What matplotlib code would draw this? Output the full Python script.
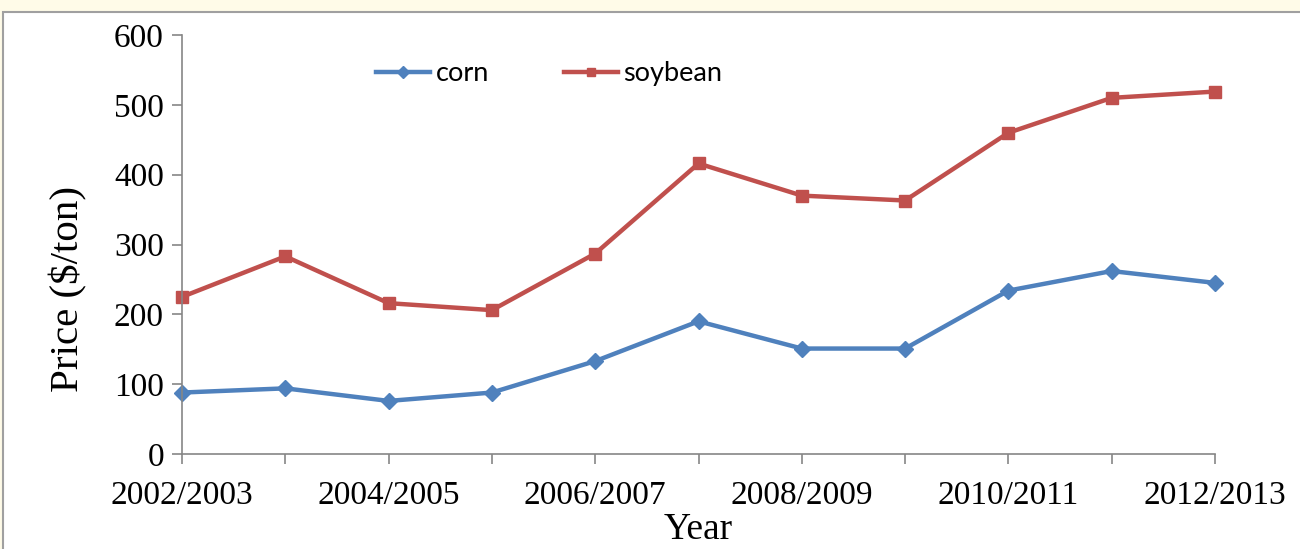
import matplotlib.pyplot as plt
from matplotlib.patches import Rectangle

years = ["2002/2003", "2003/2004", "2004/2005", "2005/2006", "2006/2007", "2007/2008",
         "2008/2009", "2009/2010", "2010/2011", "2011/2012", "2012/2013"]
corn = [88, 94, 76, 88, 133, 190, 151, 151, 234, 262, 245]
soybean = [225, 283, 216, 206, 287, 416, 370, 363, 460, 510, 519]

fig = plt.figure(figsize=(13, 5.49), dpi=100, facecolor="#fffbe8")
# white chart panel with a thin grey border, kept behind the axes
fig.patches.append(Rectangle((3 / 1300, -0.01), 1.0, 1 - 12 / 549 + 0.01,
                             transform=fig.transFigure, facecolor="white",
                             edgecolor="#a0a0a0", lw=1.5, zorder=-5))

ax = fig.add_axes([182 / 1300, 1 - 454 / 549, (1215 - 182) / 1300, (454 - 35) / 549])
ax.set_facecolor("none")

x = list(range(len(years)))
ax.plot(x, corn, color="#4f81bd", lw=3.2, marker="D", ms=8, label="corn", clip_on=False)
ax.plot(x, soybean, color="#c0504d", lw=3.2, marker="s", ms=8, label="soybean", clip_on=False)

ax.set_xlim(0, 10)
ax.set_ylim(0, 600)
ax.set_yticks(range(0, 601, 100))
ax.set_xticks(x)
ax.set_xticklabels([y if i % 2 == 0 else "" for i, y in enumerate(years)])

for s in ["top", "right"]:
    ax.spines[s].set_visible(False)
for s in ["left", "bottom"]:
    ax.spines[s].set_color("#868686")
    ax.spines[s].set_linewidth(1.2)
ax.tick_params(direction="out", length=7, width=1.2, color="#868686",
               labelsize=24, pad=6)
ax.tick_params(axis="x", pad=12)
for lab in ax.get_xticklabels() + ax.get_yticklabels():
    lab.set_family("Liberation Serif")

ax.set_xlabel("Year", family="Liberation Serif", fontsize=27, labelpad=1)
ax.set_ylabel("Price ($/ton)", family="Liberation Serif", fontsize=29.5)
ax.yaxis.set_label_coords(-0.092, 0.394)

ax.legend(loc="center left", bbox_to_anchor=(0.188, 0.907), ncol=2, frameon=False,
          prop={"family": "Lato", "size": 19.5}, handlelength=2.0, handletextpad=0.2,
          columnspacing=2.75, markerscale=0.8, borderpad=0, borderaxespad=0)

fig.savefig("out.png", dpi=100, facecolor=fig.get_facecolor())
